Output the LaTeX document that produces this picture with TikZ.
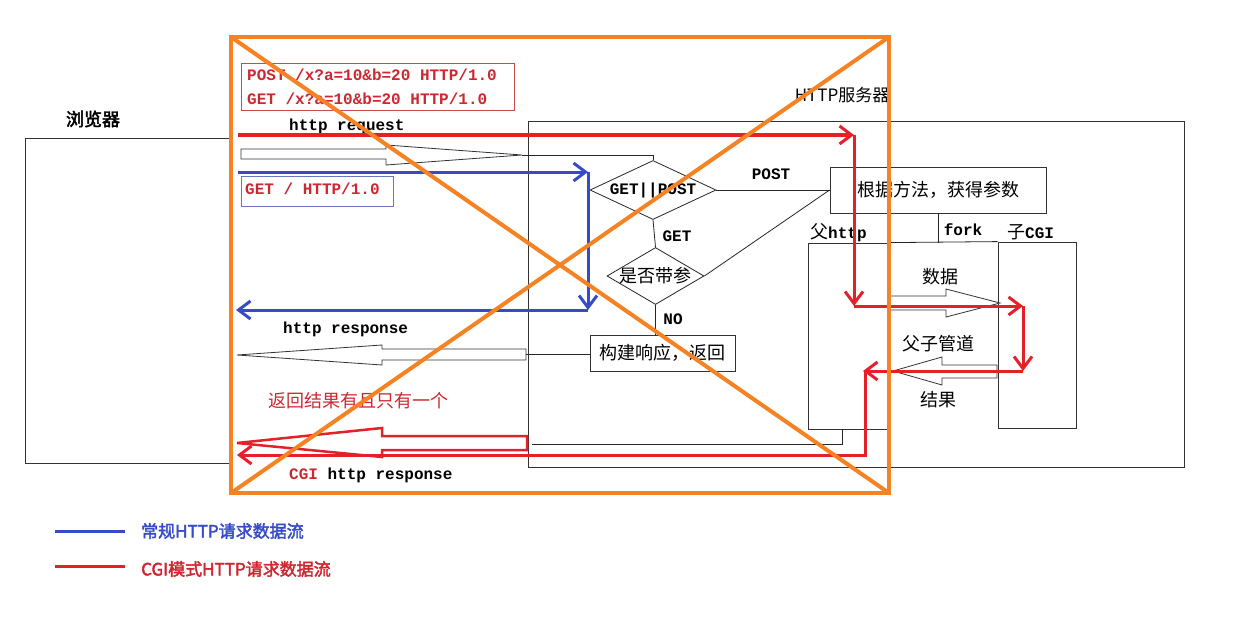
\documentclass[tikz,border=0pt]{standalone}
\usepackage{fontspec}
\setmainfont{Liberation Serif}
\setmonofont{Liberation Mono}
\newfontfamily\cjk[AutoFakeBold=2.5]{Noto Sans CJK SC}
\usetikzlibrary{arrows.meta,shapes.geometric}
\definecolor{cred}{RGB}{228,32,40}
\definecolor{tred}{RGB}{205,40,50}
\definecolor{cblue}{RGB}{55,75,200}
\definecolor{corange}{RGB}{245,130,35}
\definecolor{bred}{RGB}{200,75,75}
\definecolor{bblue}{RGB}{105,120,190}
\tikzset{
  box/.style={draw=black!80, line width=0.8pt, rectangle, inner sep=0pt},
  dia/.style={draw=black!85, line width=0.8pt, diamond, inner sep=0pt},
  thinline/.style={draw=black!85, line width=0.8pt},
  hollow/.style={draw=black!80, line width=0.8pt, fill=white},
  redflow/.style={cred, line width=3pt, -{Straight Barb[length=12pt,width=18pt]}},
  blueflow/.style={cblue, line width=3pt, -{Straight Barb[length=12pt,width=18pt]}},
  mono/.style={font=\ttfamily\bfseries\fontsize{16}{18}\selectfont, inner sep=0pt},
  zh/.style={font=\cjk\fontsize{18}{20}\selectfont, inner sep=0pt},
  orangeline/.style={corange, line width=4pt},
}
\begin{document}
\begin{tikzpicture}[x=1pt,y=-1pt]
\useasboundingbox[fill=white] (0,0) rectangle (1236,623);

% main boxes
\node[box, minimum width=207pt, minimum height=325pt] (browser) at (128.5,300.5) {};
\node[zh, font=\cjk\bfseries\fontsize{18}{20}\selectfont] (browserlbl) at (93,119) {浏览器};
\node[box, minimum width=656pt, minimum height=346pt] (server) at (856,294) {};
\node[zh, font=\cjk\fontsize{17}{20}\selectfont] (serverlbl) at (842,95) {HTTP服务器};

% request text box
\node[draw=bred, line width=1pt, minimum width=273pt, minimum height=47pt, inner sep=0pt] (reqbox) at (377.5,87.5) {};
\node[mono, text=tred, anchor=west] (req1) at (247,75) {POST /x?a=10\&b=20 HTTP/1.0};
\node[mono, text=tred, anchor=west] (req2) at (247,99) {GET /x?a=10\&b=20 HTTP/1.0};
\node[draw=bblue, line width=1pt, minimum width=152pt, minimum height=30pt, inner sep=0pt] (getbox) at (317,191) {};
\node[mono, text=tred, anchor=west] (gettxt) at (245,189) {GET / HTTP/1.0};

\node[mono, anchor=west] (httpreq) at (289,126) {http request};
\node[mono, anchor=west] (httpresp) at (283,329) {http response};
\node[zh, text=tred, anchor=west] (onlyone) at (268,401) {返回结果有且只有一个};
\node[mono, anchor=west] (cgiresp) at (289,475) {\textcolor{tred}{CGI} http response};

% flow chart in server
\node[dia, minimum width=126pt, minimum height=59pt] (d1) at (653,190) {};
\node[mono] (d1t) at (d1) {GET||POST};
\node[dia, minimum width=97pt, minimum height=57pt] (d2) at (655.5,276) {};
\node[zh] (d2t) at (d2) {是否带参};
\node[box, minimum width=145pt, minimum height=36pt] (build) at (662.5,353) {};
\node[zh] (buildt) at (build) {构建响应，返回};
\node[box, minimum width=216pt, minimum height=46pt] (param) at (938,190) {};
\node[zh] (paramt) at (param) {根据方法，获得参数};
\node[box, minimum width=80pt, minimum height=186pt] (father) at (848,336) {};
\node[box, minimum width=78pt, minimum height=186pt] (child) at (1037,335) {};

\node[mono] (postlbl) at (771,174) {POST};
\node[mono] (getlbl) at (677,236) {GET};
\node[mono] (nolbl) at (673,319) {NO};
\node[mono] (forklbl) at (963,230) {fork};
\node[zh, anchor=west] (fatherlbl) at (810,233) {父\ttfamily\bfseries\fontsize{16}{18}\selectfont http};
\node[zh, anchor=west] (childlbl) at (1007,232) {子\ttfamily\bfseries\fontsize{16}{18}\selectfont CGI};
\node[zh] (datalbl) at (940,277) {数据};
\node[zh] (pipelbl) at (938,344) {父子管道};
\node[zh] (resultlbl) at (938,400) {结果};

% connectors in flow chart
\draw[thinline] (d1.east) -- (param.west);
\draw[thinline] (d1.south) -- (d2.north);
\draw[thinline] (d2.east) -- (param.west);
\draw[thinline] (d2.south) -- (d2.south |- build.north);
\draw[thinline] (param.south) -- (param.south |- father.north);
\draw[thinline] (father.north east) -- (child.north west);

% hollow arrows
\coordinate (reqtip) at (522,155);
\draw[hollow] (241,149) -- (386,149) -- (386,145) -- (reqtip) -- (386,165) -- (386,159) -- (241,159) -- cycle;
\draw[thinline] (reqtip) -- (d1.north |- reqtip) -- (d1.north);

\coordinate (resptail) at (526,354);
\draw[hollow] (526,349) -- (382,349) -- (382,345) -- (237,355) -- (382,365) -- (382,360) -- (526,360) -- cycle;
\draw[thinline] (resptail -| build.west) -- (resptail);

\draw[hollow] (888,296) -- (946,296) -- (946,289) -- (1000,303) -- (946,317) -- (946,310) -- (888,310) -- cycle;
\draw[hollow] (997,365) -- (942,365) -- (942,357) -- (893,371) -- (942,385) -- (942,378) -- (997,378) -- cycle;

\coordinate (cgiline) at (532,444);
\coordinate (cgicorner) at (842,444);
\draw[thinline] (cgiline) -- (cgicorner) -- (cgicorner |- father.south);

\draw[cred, line width=2.5pt, fill=white] (527,436) -- (382,436) -- (382,428) -- (237,443) -- (382,457) -- (382,450) -- (527,450) -- cycle;

% blue flow
\coordinate (b1) at (238,172);
\coordinate (b2) at (588,172);
\coordinate (b3) at (588,310);
\coordinate (b4) at (236,310);
\draw[blueflow] (b1) -- (b2);
\draw[blueflow] (b2) -- (b3);
\draw[blueflow] (b3) -- (b4);

% red flow
\coordinate (r1) at (238,135);
\coordinate (r2) at (854,135);
\coordinate (r3) at (854,306);
\coordinate (r4) at (1023,306);
\coordinate (r5) at (1023,371);
\coordinate (r6) at (863,371);
\coordinate (r6b) at (865,370);
\coordinate (r7) at (865,455);
\coordinate (r8) at (237,455);
\draw[redflow] (r1) -- (r2);
\draw[redflow] (r2) -- (r3);
\draw[redflow] (r3) -- (r4);
\draw[redflow] (r4) -- (r5);
\draw[redflow] (r5) -- (r6);
\draw[redflow] (r6b) -- (r7) -- (r8);

% orange cross
\coordinate (o1) at (231,37);
\coordinate (o2) at (889,37);
\coordinate (o3) at (889,493);
\coordinate (o4) at (231,493);
\draw[orangeline] (o1) rectangle (o3);
\draw[orangeline] (o1) -- (o3);
\draw[orangeline] (o2) -- (o4);

% legend
\coordinate (lb1) at (55,531);
\coordinate (lb2) at (125,531);
\coordinate (lr1) at (55,566);
\coordinate (lr2) at (125,566);
\draw[cblue, line width=3pt] (lb1) -- (lb2);
\draw[cred, line width=3pt] (lr1) -- (lr2);
\node[zh, text=cblue, anchor=west, font=\cjk\bfseries\fontsize{17}{20}\selectfont] (leg1) at (141,531) {常规HTTP请求数据流};
\node[zh, text=tred, anchor=west, font=\cjk\bfseries\fontsize{17}{20}\selectfont] (leg2) at (141,569) {CGI模式HTTP请求数据流};
\end{tikzpicture}
\end{document}
